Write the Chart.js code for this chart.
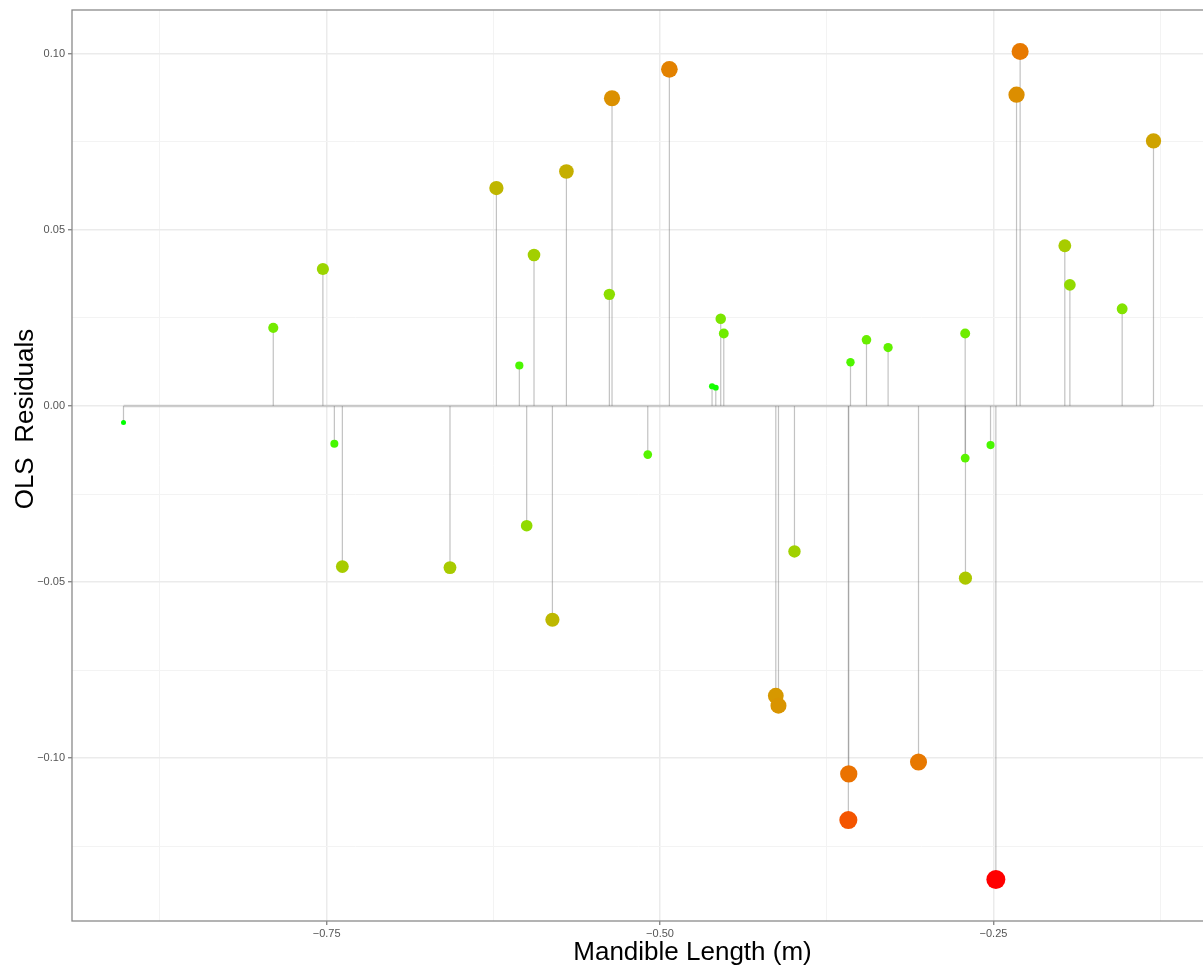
<!DOCTYPE html>
<html>
<head>
<meta charset="utf-8">
<script src="https://cdn.jsdelivr.net/npm/chart.js@4.4.1/dist/chart.umd.min.js"></script>
<style>
  html, body { margin: 0; padding: 0; background: #ffffff; overflow: hidden; }
  canvas { display: block; }
</style>
</head>
<body>
<canvas id="chart" width="1205" height="969"></canvas>
<script>
// Mandible length (x) and OLS residual (y) for each specimen
const mandibleLength = [
  -0.9023, -0.7900, -0.7528, -0.7442, -0.7382, -0.6575, -0.6227, -0.6055,
  -0.6000, -0.5945, -0.5807, -0.5702, -0.5380, -0.5360, -0.5092, -0.4930,
  -0.4610, -0.4582, -0.4545, -0.4522, -0.4132, -0.4112, -0.3992, -0.3585,
  -0.3588, -0.3572, -0.3452, -0.3290, -0.3062, -0.2712, -0.2712, -0.2710,
  -0.2522, -0.2482, -0.2327, -0.2300, -0.1965, -0.1927, -0.1535, -0.1300
];
const olsResiduals = [
  -0.0047,  0.0222,  0.0389, -0.0107, -0.0456, -0.0459,  0.0619,  0.0115,
  -0.0340,  0.0429, -0.0607,  0.0666,  0.0317,  0.0874, -0.0138,  0.0956,
   0.0056,  0.0052,  0.0248,  0.0206, -0.0823, -0.0851, -0.0413, -0.1045,
  -0.1176,  0.0124,  0.0188,  0.0166, -0.1011,  0.0206, -0.0148, -0.0489,
  -0.0111, -0.1345,  0.0884,  0.1007,  0.0455,  0.0344,  0.0276,  0.0753
];

// Axis breaks
const xMajorTicks = [-0.75, -0.50, -0.25];
const xMinorTicks = [-0.875, -0.625, -0.375, -0.125];
const yMajorTicks = [-0.10, -0.05, 0.00, 0.05, 0.10];
const yMinorTicks = [-0.125, -0.075, -0.025, 0.025, 0.075];

const xTitle = 'Mandible Length (m)';
const yTitle = 'OLS  Residuals';

// ---- helpers -------------------------------------------------------------
const isMajor = (list, v) => list.some(m => Math.abs(m - v) < 1e-9);
const fmt = v => (v < -1e-12 ? '\u2212' : '') + Math.abs(v).toFixed(2);

function expandRange(values, mult) {
  const lo = Math.min(...values), hi = Math.max(...values);
  const pad = (hi - lo) * mult;
  return [lo - pad, hi + pad];
}

// sRGB <-> CIE Lab (D65) for a green -> red gradient interpolated in Lab
function toLin(c) { c /= 255; return c <= 0.04045 ? c / 12.92 : Math.pow((c + 0.055) / 1.055, 2.4); }
function fromLin(c) {
  const v = c <= 0.0031308 ? 12.92 * c : 1.055 * Math.pow(c, 1 / 2.4) - 0.055;
  return Math.round(Math.min(1, Math.max(0, v)) * 255);
}
function rgbToLab([r, g, b]) {
  r = toLin(r); g = toLin(g); b = toLin(b);
  const X = (0.4124564 * r + 0.3575761 * g + 0.1804375 * b) / 0.95047;
  const Y = (0.2126729 * r + 0.7151522 * g + 0.0721750 * b);
  const Z = (0.0193339 * r + 0.1191920 * g + 0.9503041 * b) / 1.08883;
  const f = t => t > 0.008856 ? Math.cbrt(t) : 7.787 * t + 16 / 116;
  const fx = f(X), fy = f(Y), fz = f(Z);
  return [116 * fy - 16, 500 * (fx - fy), 200 * (fy - fz)];
}
function labToRgb([L, a, b]) {
  const fy = (L + 16) / 116, fx = fy + a / 500, fz = fy - b / 200;
  const inv = t => { const t3 = t * t * t; return t3 > 0.008856 ? t3 : (t - 16 / 116) / 7.787; };
  const X = inv(fx) * 0.95047, Y = inv(fy), Z = inv(fz) * 1.08883;
  const r = 3.2404542 * X - 1.5371385 * Y - 0.4985314 * Z;
  const g = -0.9692660 * X + 1.8760108 * Y + 0.0415560 * Z;
  const bl = 0.0556434 * X - 0.2040259 * Y + 1.0572252 * Z;
  return `rgb(${fromLin(r)},${fromLin(g)},${fromLin(bl)})`;
}
const labLow = rgbToLab([0, 255, 0]);
const labHigh = rgbToLab([255, 0, 0]);
const gradient = t => labToRgb(labLow.map((v, i) => v + (labHigh[i] - v) * t));

// |residual| drives both dot size and colour
const absRes = olsResiduals.map(Math.abs);
const absMin = Math.min(...absRes), absMax = Math.max(...absRes);
const scaled = absRes.map(v => (v - absMin) / (absMax - absMin));
const dotRadius = i => 2.5 + 7 * Math.sqrt(scaled[i] || 0);

const [xMin, xMax] = expandRange(mandibleLength, 0.05);
const [yMin, yMax] = expandRange(olsResiduals, 0.05);

// ---- datasets --------------------------------------------------------------
const points = mandibleLength.map((x, i) => ({ x, y: olsResiduals[i] }));

const datasets = [];
datasets.push({
  type: 'scatter',
  label: 'residuals',
  data: points,
  order: 0,
  pointRadius: ctx => dotRadius(ctx.dataIndex),
  pointHoverRadius: ctx => dotRadius(ctx.dataIndex),
  pointBackgroundColor: ctx => gradient(scaled[ctx.dataIndex] || 0),
  pointBorderWidth: 0
});
mandibleLength.forEach((x, i) => {
  datasets.push({
    type: 'line',
    label: 'stem' + i,
    data: [{ x, y: 0 }, { x, y: olsResiduals[i] }],
    order: 1,
    borderColor: 'rgba(120,120,120,0.45)',
    borderWidth: 1.2,
    pointRadius: 0,
    fill: false
  });
});
datasets.push({
  type: 'line',
  label: 'baseline',
  data: [{ x: Math.min(...mandibleLength), y: 0 }, { x: Math.max(...mandibleLength), y: 0 }],
  order: 2,
  borderColor: 'rgba(150,150,150,0.42)',
  borderWidth: 2.6,
  pointRadius: 0,
  fill: false
});

// ---- frame and axis titles ----------------------------------------------------
const panelFrame = {
  id: 'panelFrame',
  afterDraw(chart) {
    const { ctx, chartArea: a } = chart;
    ctx.save();
    ctx.strokeStyle = '#8a8a8a';
    ctx.lineWidth = 1.3;
    ctx.strokeRect(a.left, a.top, a.right - a.left, a.bottom - a.top);

    ctx.fillStyle = '#000000';
    ctx.font = '26px "Liberation Sans", Arial, sans-serif';
    ctx.textAlign = 'center';
    ctx.textBaseline = 'alphabetic';
    ctx.fillText(xTitle, 692.5, a.bottom + 39);
    ctx.translate(33, 419);
    ctx.rotate(-Math.PI / 2);
    ctx.fillText(yTitle, 0, 0);
    ctx.restore();
  }
};

const tickFont = { family: '"Liberation Sans", Arial, sans-serif', size: 11 };

new Chart(document.getElementById('chart'), {
  data: { datasets },
  plugins: [panelFrame],
  options: {
    responsive: false,
    animation: false,
    devicePixelRatio: 1,
    layout: { autoPadding: false, padding: { top: 10, left: 0, right: 0, bottom: 0 } },
    plugins: { legend: { display: false }, tooltip: { enabled: false } },
    events: [],
    scales: {
      x: {
        type: 'linear',
        position: 'bottom',
        min: xMin,
        max: xMax,
        afterBuildTicks: s => {
          s.ticks = [...xMinorTicks, ...xMajorTicks].sort((a, b) => a - b).map(v => ({ value: v }));
        },
        afterFit: s => { s.height = 48; },
        border: { display: false },
        grid: {
          color: c => isMajor(xMajorTicks, c.tick.value) ? '#ebebeb' : '#f3f3f3',
          lineWidth: c => isMajor(xMajorTicks, c.tick.value) ? 1.5 : 1,
          tickColor: c => isMajor(xMajorTicks, c.tick.value) ? '#777777' : 'rgba(0,0,0,0)',
          tickLength: 4,
          tickWidth: 1.2
        },
        ticks: {
          autoSkip: false,
          maxRotation: 0,
          padding: 2,
          color: '#555555',
          font: tickFont,
          callback: v => isMajor(xMajorTicks, v) ? fmt(v) : ''
        }
      },
      y: {
        type: 'linear',
        position: 'left',
        min: yMin,
        max: yMax,
        afterBuildTicks: s => {
          s.ticks = [...yMinorTicks, ...yMajorTicks].sort((a, b) => a - b).map(v => ({ value: v }));
        },
        afterFit: s => { s.width = 72; },
        border: { display: false },
        grid: {
          color: c => isMajor(yMajorTicks, c.tick.value) ? '#ebebeb' : '#f3f3f3',
          lineWidth: c => isMajor(yMajorTicks, c.tick.value) ? 1.5 : 1,
          tickColor: c => isMajor(yMajorTicks, c.tick.value) ? '#777777' : 'rgba(0,0,0,0)',
          tickLength: 4,
          tickWidth: 1.2
        },
        ticks: {
          autoSkip: false,
          padding: 3,
          color: '#555555',
          font: tickFont,
          callback: v => isMajor(yMajorTicks, v) ? fmt(v) : ''
        }
      }
    }
  }
});
</script>
</body>
</html>
